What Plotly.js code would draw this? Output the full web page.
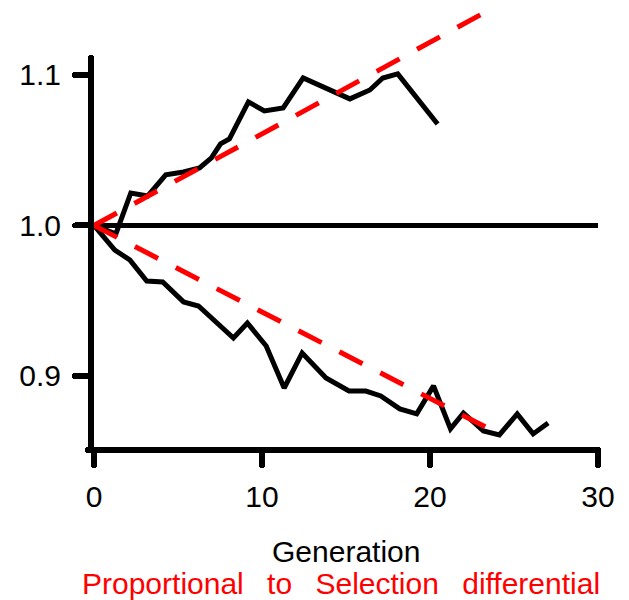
<!DOCTYPE html>
<html>
<head>
<meta charset="utf-8">
<script src="https://cdn.plot.ly/plotly-3.0.1.min.js"></script>
<style>
  html, body { margin: 0; padding: 0; background: #fff; }
  #chart { width: 629px; height: 600px; }
  /* rounded ends on axis lines and tick marks */
  .xtick, .ytick, .xlines-above, .ylines-above { stroke-linecap: round; }
</style>
</head>
<body>
<div id="chart"></div>
<script>
// Selection lines: relative mean per generation
const upperGen = [0, 1.30, 2.19, 3.20, 4.27, 5.33, 6.28, 6.99, 7.53, 8.06, 9.19, 10.14, 11.26, 12.45, 15.23, 16.42, 17.19, 18.08, 20.45];
const upperVal = [1.000, 0.9944, 1.0216, 1.0196, 1.0336, 1.0355, 1.0382, 1.0449, 1.0542, 1.0575, 1.0821, 1.0761, 1.0781, 1.0980, 1.0841, 1.0900, 1.0980, 1.1007, 1.0674];

const lowerGen = [0, 1.24, 2.13, 3.14, 4.09, 5.33, 6.22, 8.30, 9.13, 10.25, 11.32, 12.39, 13.81, 15.18, 16.18, 17.07, 18.20, 19.21, 20.21, 21.22, 21.99, 23.18, 24.13, 25.19, 26.14, 27.03];
const lowerVal = [1.000, 0.9837, 0.9771, 0.9631, 0.9624, 0.9492, 0.9465, 0.9252, 0.9352, 0.9199, 0.8920, 0.9153, 0.8987, 0.8900, 0.8900, 0.8867, 0.8781, 0.8748, 0.8934, 0.8648, 0.8754, 0.8635, 0.8608, 0.8748, 0.8615, 0.8688];

// Expected response, proportional to the selection differential
const predUpGen = [0, 23.53];
const predUpVal = [1.0, 1.1432];
const predDownGen = [0, 24.0];
const predDownVal = [1.0, 0.8621];

// Reference level
const baseGen = [0, 30];
const baseVal = [1.0, 1.0];

const xTicks = [0, 10, 20, 30];
const yTicks = [0.9, 1.0, 1.1];
const yTickText = ['0.9', '1.0', '1.1'];

const FONT = 'Liberation Sans, Arial, sans-serif';

const black = { color: '#000000', width: 5 };
const red = { color: '#ff0000', width: 5, dash: '26px,20px' };

const traces = [
  { x: baseGen, y: baseVal, mode: 'lines', line: black, hoverinfo: 'skip' },
  { x: upperGen, y: upperVal, mode: 'lines', line: black, hoverinfo: 'skip' },
  { x: lowerGen, y: lowerVal, mode: 'lines', line: black, hoverinfo: 'skip' },
  // prediction lines live on a taller twin y-axis with the same scale, so they can run past the frame top
  { x: predUpGen, y: predUpVal, xaxis: 'x', yaxis: 'y2', mode: 'lines', line: red, hoverinfo: 'skip' },
  { x: predDownGen, y: predDownVal, xaxis: 'x', yaxis: 'y2', mode: 'lines', line: red, hoverinfo: 'skip' }
];

const yLow = 0.8528;
const pxPerUnit = 1505;
const plotH = 447;
const frameTop = 58;

const layout = {
  width: 629,
  height: 600,
  margin: { l: 94, r: 31, t: 0, b: 153, pad: 0 },
  paper_bgcolor: '#ffffff',
  plot_bgcolor: 'rgba(0,0,0,0)',
  showlegend: false,
  font: { family: FONT, size: 30, color: '#000000' },
  xaxis: {
    domain: [0, 1],
    range: [0, 30],
    tickmode: 'array',
    tickvals: xTicks,
    ticktext: xTicks.map(String),
    showline: true, linewidth: 6, linecolor: '#000000',
    ticks: 'outside', ticklen: 12, tickwidth: 6, tickcolor: '#000000',
    ticklabelstandoff: 6,
    showgrid: false, zeroline: false,
    tickfont: { family: FONT, size: 30, color: '#000000' },
    fixedrange: true
  },
  yaxis: {
    domain: [0, (plotH - frameTop) / plotH],
    range: [yLow, yLow + (plotH - frameTop) / pxPerUnit],
    tickmode: 'array',
    tickvals: yTicks,
    ticktext: yTickText,
    showline: true, linewidth: 6, linecolor: '#000000',
    ticks: 'outside', ticklen: 13, tickwidth: 6, tickcolor: '#000000',
    ticklabelstandoff: 8,
    showgrid: false, zeroline: false,
    tickfont: { family: FONT, size: 30, color: '#000000' },
    fixedrange: true
  },
  yaxis2: {
    domain: [0, 1],
    range: [yLow, yLow + plotH / pxPerUnit],
    anchor: 'x',
    visible: false,
    fixedrange: true
  },
  annotations: [
    {
      text: 'Generation',
      xref: 'paper', yref: 'paper',
      x: 0.5, y: (plotH - 551) / plotH,
      xanchor: 'center', yanchor: 'middle',
      showarrow: false,
      font: { family: FONT, size: 30, color: '#000000' }
    },
    {
      text: 'Proportional\u2002 to\u2002 Selection\u2002 differential',
      xref: 'paper', yref: 'paper',
      x: (341 - 94) / 504, y: (plotH - 583) / plotH,
      xanchor: 'center', yanchor: 'middle',
      showarrow: false,
      font: { family: FONT, size: 30, color: '#ff0000' }
    }
  ]
};

Plotly.newPlot('chart', traces, layout, { staticPlot: true, displayModeBar: false });
</script>
</body>
</html>
